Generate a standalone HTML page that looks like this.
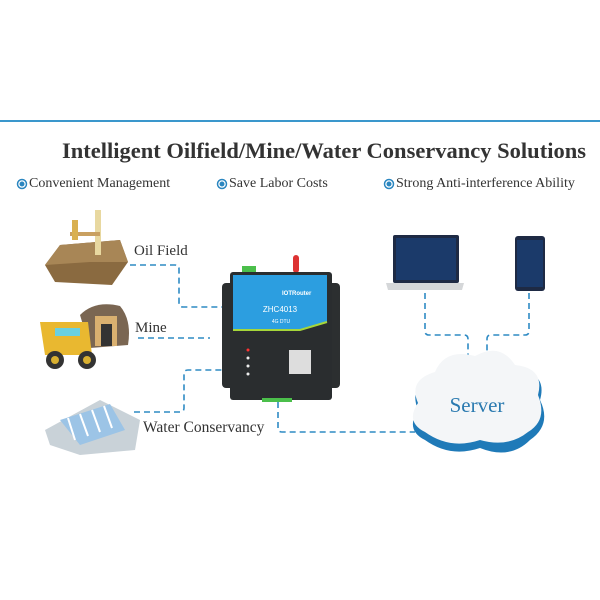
<!DOCTYPE html>
<html><head><meta charset="utf-8"><style>
body{margin:0;width:600px;height:600px;background:#fff;overflow:hidden;font-family:"Liberation Serif",serif}
.t{position:absolute;white-space:nowrap;color:#333}
</style></head><body>
<svg width="600" height="600" style="position:absolute;left:0;top:0">
<line x1="0" y1="121" x2="600" y2="121" stroke="#3a97cc" stroke-width="2"/>
<g fill="#fff" stroke="#2a86c0" stroke-width="1.5"><circle cx="22" cy="184" r="4.5"/><circle cx="222" cy="184" r="4.5"/><circle cx="389" cy="184" r="4.5"/></g>
<g fill="#2a86c0"><circle cx="22" cy="184" r="2.5"/><circle cx="222" cy="184" r="2.5"/><circle cx="389" cy="184" r="2.5"/></g>
<g fill="none" stroke="#2f8bc4" stroke-width="1.6" stroke-dasharray="6,4">
<path d="M130 265 H175 Q179 265 179 269 V303 Q179 307 183 307 H224"/>
<path d="M138 338 H210"/>
<path d="M134 412 H180 Q184 412 184 408 V374 Q184 370 188 370 H224"/>
<path d="M278 402 V428 Q278 432 282 432 H415"/>
<path d="M425 293 V331 Q425 335 429 335 H464 Q468 335 468 339 V356"/>
<path d="M529 293 V331 Q529 335 525 335 H491 Q487 335 487 339 V356"/>
</g>
<path d="M45 265 L60 245 L120 240 L128 262 L112 285 L55 282 Z" fill="#8a6a40"/>
<path d="M45 265 L60 245 L120 240 L128 262 L90 262 Z" fill="#a88656"/>
<rect x="95" y="210" width="6" height="45" fill="#e8d8a0"/><rect x="70" y="232" width="30" height="4" fill="#c9a060"/><rect x="72" y="220" width="6" height="20" fill="#d9b050"/>
<path d="M80 315 Q95 300 120 306 Q132 320 128 345 L90 348 Z" fill="#7a6652"/><rect x="95" y="316" width="22" height="30" fill="#d9b070"/><rect x="101" y="324" width="11" height="22" fill="#333"/>
<path d="M40 322 H88 L92 355 H45 Z" fill="#e9b830"/><rect x="55" y="328" width="25" height="8" fill="#6ad0e0"/><circle cx="55" cy="360" r="9" fill="#333"/><circle cx="55" cy="360" r="4" fill="#d9b030"/><circle cx="87" cy="360" r="9" fill="#333"/><circle cx="87" cy="360" r="4" fill="#d9b030"/>
<path d="M45 430 L100 400 L140 420 L135 450 L80 455 L50 445 Z" fill="#c9d2d8"/><path d="M60 420 L110 404 L125 430 L80 445 Z" fill="#9cc4e6"/>
<g stroke="#fff" stroke-width="2"><line x1="68" y1="418" x2="75" y2="440"/><line x1="80" y1="414" x2="88" y2="436"/><line x1="92" y1="410" x2="100" y2="432"/><line x1="104" y1="406" x2="112" y2="428"/></g>
<rect x="222" y="283" width="118" height="105" rx="4" fill="#2c2f30"/>
<rect x="293" y="255" width="6" height="18" rx="3" fill="#d33"/>
<rect x="242" y="266" width="14" height="8" fill="#4bbf4b"/>
<rect x="230" y="272" width="102" height="128" rx="3" fill="#2a2d2f"/>
<path d="M233 275 H327 V322 L300 330 L233 330 Z" fill="#2c9ee0"/>
<path d="M233 330 L300 330 L327 322" stroke="#a6d63a" stroke-width="2" fill="none"/>
<rect x="289" y="350" width="22" height="24" fill="#ddd"/>
<g fill="#eee"><circle cx="248" cy="350" r="1.5" fill="#f33"/><circle cx="248" cy="358" r="1.5"/><circle cx="248" cy="366" r="1.5"/><circle cx="248" cy="374" r="1.5"/></g>
<rect x="262" y="398" width="30" height="4" fill="#4bbf4b"/>
<text x="280" y="312" font-family="Liberation Sans" font-size="8" fill="#fff" text-anchor="middle">ZHC4013</text>
<text x="281" y="323" font-family="Liberation Sans" font-size="5" fill="#fff" text-anchor="middle">4G DTU</text>
<text x="282" y="295" font-family="Liberation Sans" font-size="6" font-weight="bold" fill="#fff">IOTRouter</text>
<rect x="393" y="235" width="66" height="48" rx="2" fill="#1e2a44"/><rect x="396" y="238" width="60" height="42" fill="#1b3a6a"/>
<path d="M386 283 H464 L462 290 H388 Z" fill="#d5d7d9"/>
<rect x="515" y="236" width="30" height="55" rx="3" fill="#1e2a44"/><rect x="517" y="240" width="26" height="47" fill="#1b3a6a"/>
<path d="M425 440 Q405 430 418 410 Q408 385 435 378 Q445 352 475 360 Q500 345 515 370 Q548 372 540 400 Q552 425 530 440 Q510 460 480 448 Q450 458 425 440 Z" fill="#1f7ab8"/>
<path d="M425 432 Q405 422 418 403 Q408 380 435 372 Q445 348 475 356 Q500 342 515 365 Q545 368 538 395 Q548 420 528 432 Q508 448 480 440 Q450 450 425 432 Z" fill="#f4f6f8"/>
<text x="477" y="412" font-size="21" fill="#2a7ab0" text-anchor="middle">Server</text>
</svg>
<div class="t" style="left:62px;top:138px;font-size:22.5px;font-weight:bold;color:#333">Intelligent Oilfield/Mine/Water Conservancy Solutions</div>
<div class="t" style="left:29px;top:176px;font-size:14px">Convenient Management</div>
<div class="t" style="left:229px;top:176px;font-size:14px">Save Labor Costs</div>
<div class="t" style="left:396px;top:176px;font-size:14px">Strong Anti-interference Ability</div>
<div class="t" style="left:134px;top:243px;font-size:15px">Oil Field</div>
<div class="t" style="left:135px;top:320px;font-size:15px">Mine</div>
<div class="t" style="left:143px;top:419px;font-size:15.5px">Water Conservancy</div>
</body></html>
